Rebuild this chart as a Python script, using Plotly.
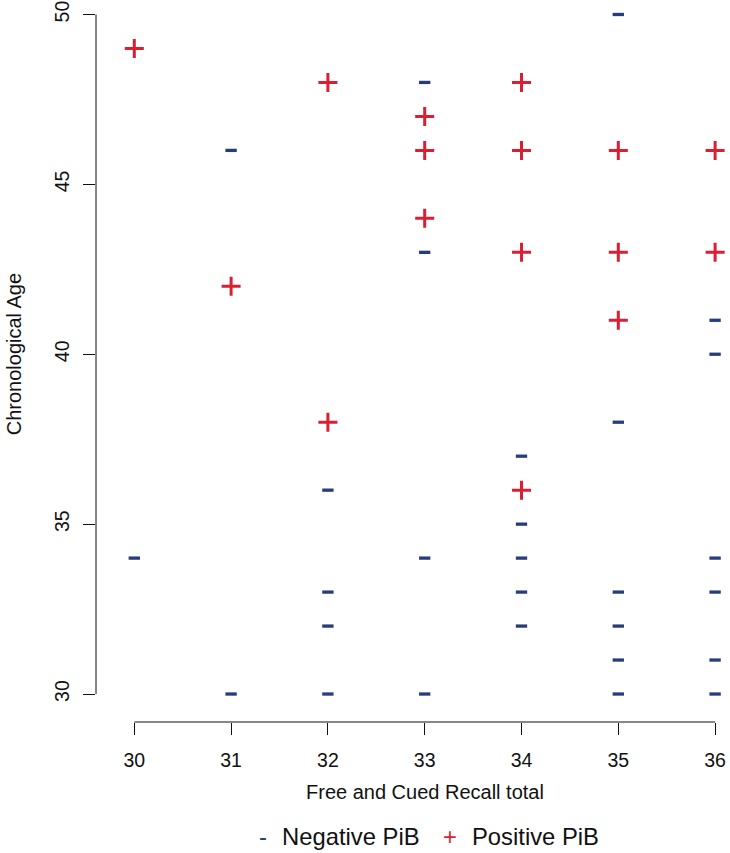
import plotly.graph_objects as go

# Data
neg_x = [35, 31, 33, 33, 36, 36, 35, 34, 32, 34, 30, 33, 34, 36, 32, 34, 35, 36, 32, 34, 35, 35, 36, 31, 32, 33, 35, 36]
neg_y = [50, 46, 48, 43, 41, 40, 38, 37, 36, 35, 34, 34, 34, 34, 33, 33, 33, 33, 32, 32, 32, 31, 31, 30, 30, 30, 30, 30]
pos_x = [30, 31, 32, 32, 33, 33, 33, 34, 34, 34, 34, 35, 35, 35, 36, 36]
pos_y = [49, 42, 48, 38, 47, 46, 44, 48, 46, 43, 36, 46, 43, 41, 46, 43]

x_ticks = [30, 31, 32, 33, 34, 35, 36]
y_ticks = [30, 35, 40, 45, 50]

x_title = "Free and Cued Recall total"
y_title = "Chronological Age"
neg_label = "Negative PiB"
pos_label = "Positive PiB"

NAVY = "#263d7a"
RED = "#db1f33"
FONT = "Liberation Sans, Arial, sans-serif"

W, H = 730, 853
ML, MR, MT, MB = 96, 0, 0, 130.5
PW = W - ML - MR
PH = H - MT - MB

fig = go.Figure()
fig.add_trace(go.Scatter(
    x=neg_x, y=neg_y, mode="markers", name=neg_label,
    marker=dict(symbol="line-ew", size=8.1, color=NAVY,
                line=dict(color=NAVY, width=3.3)),
    showlegend=False, hoverinfo="skip",
))
fig.add_trace(go.Scatter(
    x=pos_x, y=pos_y, mode="markers", name=pos_label,
    marker=dict(symbol="cross-thin", size=13.6, color=RED,
                line=dict(color=RED, width=3)),
    showlegend=False, hoverinfo="skip",
))

x0 = 30 - 38.3 / 96.8
x1 = x0 + PW / 96.8
y1 = 50 + 14.5 / 34
y0 = y1 - PH / 34

fig.update_xaxes(
    range=[x0, x1], tickvals=x_ticks, ticks="outside", ticklen=12,
    tickwidth=1, tickcolor="#111", showline=False, showgrid=False,
    zeroline=False, ticklabelstandoff=9,
    tickfont=dict(family=FONT, size=19.5, color="#111"),
)
fig.update_yaxes(
    range=[y0, y1], tickvals=y_ticks, ticks="outside", ticklen=12,
    tickwidth=1, tickcolor="#111", showline=False, showgrid=False,
    zeroline=False, tickangle=-90, ticklabelstandoff=6,
    tickfont=dict(family=FONT, size=19.5, color="#111"),
)

# R-style axis lines spanning only the tick range
fig.add_shape(type="line", xref="paper", yref="y", x0=0, x1=0,
              y0=y_ticks[0], y1=y_ticks[-1], line=dict(color="#111", width=1))
fig.add_shape(type="line", xref="x", yref="paper", x0=x_ticks[0], x1=x_ticks[-1],
              y0=0, y1=0, line=dict(color="#111", width=1))

def px_x(p):
    return (p - ML) / PW

def px_y(p):
    return (MT + PH - p) / PH

LEG = 23.8
annotations = [
    dict(text=y_title, xref="paper", yref="y", x=px_x(14), y=40,
         textangle=-90, showarrow=False, xanchor="center", yanchor="middle",
         font=dict(family=FONT, size=20, color="#111")),
    dict(text=x_title, xref="x", yref="paper", x=33, y=px_y(793),
         showarrow=False, xanchor="center", yanchor="middle",
         font=dict(family=FONT, size=20, color="#111")),
    dict(text="-", xref="paper", yref="paper", x=px_x(257), y=px_y(837),
         showarrow=False, xanchor="left", yanchor="middle",
         font=dict(family=FONT, size=LEG, color=NAVY)),
    dict(text=neg_label, xref="paper", yref="paper", x=px_x(280), y=px_y(837),
         showarrow=False, xanchor="left", yanchor="middle",
         font=dict(family=FONT, size=LEG, color="#111")),
    dict(text="+", xref="paper", yref="paper", x=px_x(441), y=px_y(837),
         showarrow=False, xanchor="left", yanchor="middle",
         font=dict(family=FONT, size=LEG, color=RED)),
    dict(text=pos_label, xref="paper", yref="paper", x=px_x(470), y=px_y(837),
         showarrow=False, xanchor="left", yanchor="middle",
         font=dict(family=FONT, size=LEG, color="#111")),
]

fig.update_layout(
    width=W, height=H,
    margin=dict(l=ML, r=MR, t=MT, b=MB, pad=0),
    paper_bgcolor="white", plot_bgcolor="white",
    annotations=annotations,
    showlegend=False,
)

fig.write_html(
    "out.html",
    config={"displayModeBar": False},
    post_script="document.body.style.margin='0';document.body.style.padding='0';"
                "document.body.style.overflow='hidden';",
)
